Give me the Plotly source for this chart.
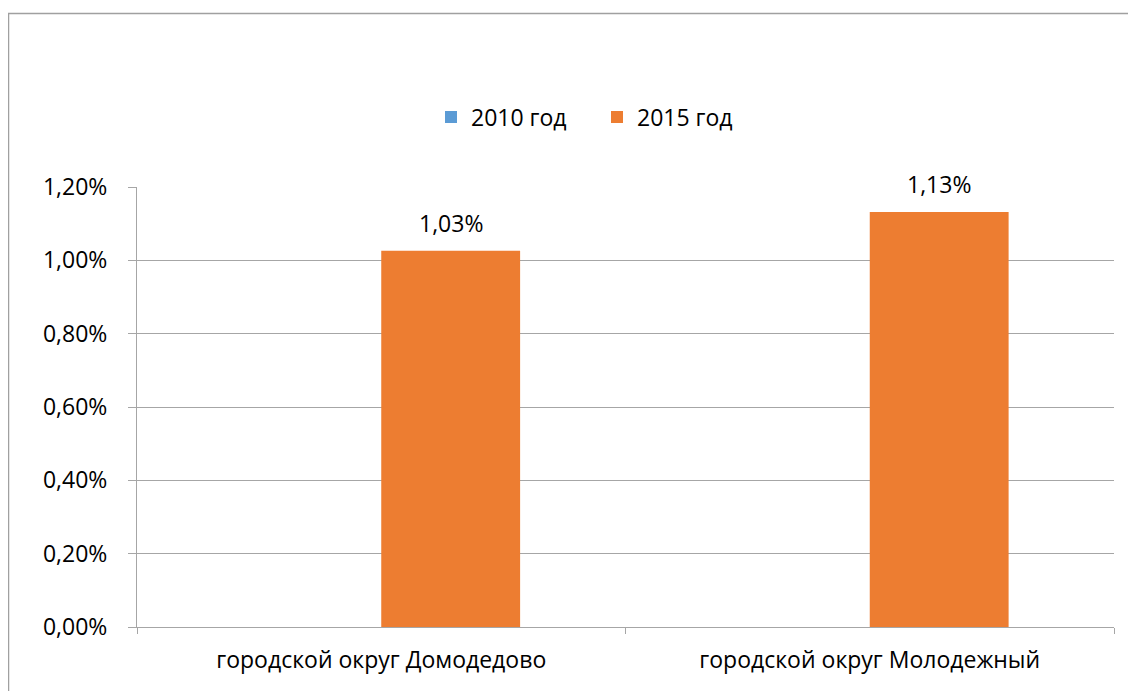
import plotly.graph_objects as go

categories = ["городской округ Домодедово", "городской округ Молодежный"]
series_names = ["2010 год", "2015 год"]
values_2010 = [None, None]
values_2015 = [0.01026, 0.01132]
colors = ["#5b9bd5", "#ed7d31"]

# page renders with an 8px body offset, so work in reference pixels minus 8
OFF = 8
W, H = 1128, 683
L, R, T, B = 137 - OFF, 22, 187 - OFF, 64
pw, ph = W - L - R, H - T - B

def px_x(p):
    return (p - OFF - L) / pw

def px_y(p):
    return (H - B - (p - OFF)) / ph

FONT = "Open Sans"
FS = 23
fig = go.Figure()
for name, vals, col in zip(series_names, [values_2010, values_2015], colors):
    fig.add_trace(go.Bar(x=categories, y=vals, name=name, marker=dict(color=col, line=dict(width=0))))

# data labels
slot = 139
for i, (c, v) in enumerate(zip(categories, values_2015)):
    if v is not None:
        fig.add_annotation(x=c, y=v, xref="x", yref="y", text=f"{v*100:.2f}%".replace(".", ","),
                           showarrow=False, xshift=slot / 2, yshift=28, yanchor="middle",
                           font=dict(family=FONT, size=FS, color="#000000"))

grid = "#a6a6a6"
fig.update_layout(
    width=W, height=H,
    margin=dict(l=L, r=R, t=T, b=B, autoexpand=False),
    paper_bgcolor="white", plot_bgcolor="white",
    barmode="group", bargap=0.4315, bargroupgap=0,
    separators=", ",
    font=dict(family=FONT, size=FS, color="#000000"),
    showlegend=True,
    legend=dict(orientation="h", x=px_x(597), y=px_y(117), xanchor="center", yanchor="middle",
                font=dict(family=FONT, size=FS, color="#000000"), itemwidth=30,
                entrywidth=121, entrywidthmode="pixels",
                bgcolor="rgba(0,0,0,0)"),
    xaxis=dict(showline=True, linecolor=grid, linewidth=1, ticks="outside", tickson="boundaries",
               ticklen=6, tickcolor=grid, showgrid=False, ticklabelstandoff=12,
               tickfont=dict(family=FONT, size=FS, color="#000000")),
    yaxis=dict(range=[0, 0.012], dtick=0.002, tickformat=".2%", showline=True, linecolor=grid,
               linewidth=1, showgrid=True, gridcolor=grid, gridwidth=1, ticks="outside", ticklen=8,
               tickcolor=grid, zeroline=False, ticklabelstandoff=16,
               tickfont=dict(family=FONT, size=FS, color="#000000")),
    shapes=[dict(type="rect", xref="paper", yref="paper", x0=px_x(8.5), x1=px_x(1150),
                 y0=px_y(710), y1=px_y(13.5), line=dict(color="#a0a0a0", width=1.5),
                 fillcolor="rgba(0,0,0,0)", layer="below")],
)
fig.write_html("out.html")
